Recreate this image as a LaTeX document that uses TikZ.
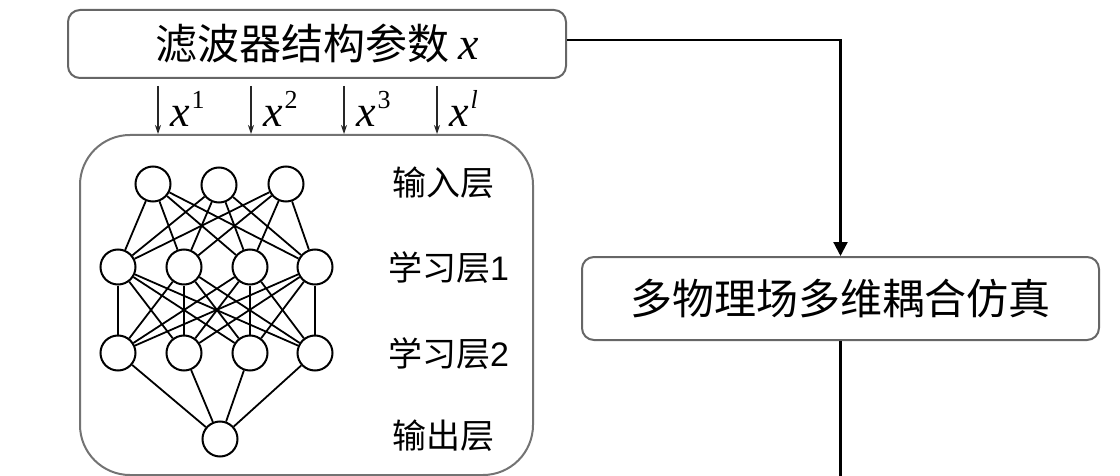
\documentclass[tikz,border=0pt]{standalone}
\usepackage{fontspec}
\setmainfont{Liberation Serif}
\newfontfamily\cjk{Noto Sans CJK SC}
\newfontfamily\arialf{Liberation Sans}
\usetikzlibrary{arrows.meta}
\newcommand\myx{{\rmfamily\itshape x}}
\newcommand\mysup[1]{\hspace{2pt}\raisebox{18pt}{\fontsize{26}{26}\selectfont #1}}
\begin{document}
\begin{tikzpicture}[x=1pt,y=-1pt,
  box/.style={draw=black!60, line width=2pt, rounded corners=12pt, inner sep=0pt},
  neuron/.style={circle, draw=black, line width=2pt, minimum size=35pt, inner sep=0pt},
  conn/.style={line width=2.2pt, black},
  link/.style={line width=1.8pt, black},
  inarrow/.style={line width=1.1pt, black!85, -{Stealth[length=9pt,width=6pt]}},
  layerlbl/.style={anchor=west, inner sep=0pt, font=\cjk\fontsize{34}{34}\selectfont},
  xlbl/.style={anchor=base west, inner sep=0pt, font=\fontsize{44}{44}\selectfont}
]
\useasboundingbox (0,0) rectangle (1120,476);

% top box
\node[box, minimum width=498pt, minimum height=68pt] (top) at (317,44)
  {\cjk\fontsize{42}{42}\selectfont 滤波器结构参数 {\fontsize{46}{46}\selectfont\myx}};

% network frame
\node[draw=black!55, line width=2pt, rounded corners=50pt, minimum width=453pt, minimum height=340pt, inner sep=0pt] (net) at (306.5,305) {};

% input arrows
\coordinate (a1) at (158,86);
\coordinate (a2) at (251,86);
\coordinate (a3) at (344,86);
\coordinate (a4) at (437,86);
\draw[inarrow] (a1) -- (a1 |- net.north);
\draw[inarrow] (a2) -- (a2 |- net.north);
\draw[inarrow] (a3) -- (a3 |- net.north);
\draw[inarrow] (a4) -- (a4 |- net.north);
\node[xlbl] (l1) at (170,127) {\myx\mysup{1}};
\node[xlbl] (l2) at (263,127) {\myx\mysup{2}};
\node[xlbl] (l3) at (356,127) {\myx\mysup{3}};
\node[xlbl] (l4) at (449,127) {\myx\mysup{\itshape l}};

% neurons
\node[neuron] (i1) at (153,184) {};
\node[neuron] (i2) at (219,185) {};
\node[neuron] (i3) at (286,184) {};
\node[neuron] (h1) at (118,267) {};
\node[neuron] (h2) at (184,267) {};
\node[neuron] (h3) at (250,267) {};
\node[neuron] (h4) at (315,267) {};
\node[neuron] (g1) at (118,353) {};
\node[neuron] (g2) at (184,353) {};
\node[neuron] (g3) at (250,353) {};
\node[neuron] (g4) at (315,353) {};
\node[neuron] (o)  at (220,439) {};

\foreach \a in {i1,i2,i3}{\foreach \b in {h1,h2,h3,h4}{\draw[link] (\a) -- (\b);}}
\foreach \a in {h1,h2,h3,h4}{\foreach \b in {g1,g2,g3,g4}{\draw[link] (\a) -- (\b);}}
\foreach \a in {g1,g2,g3,g4}{\draw[link] (\a) -- (o);}

% layer labels
\node[layerlbl] (t1) at (392,183) {输入层};
\node[layerlbl] (t2) at (388,268) {学习层{\arialf 1}};
\node[layerlbl] (t3) at (388,354) {学习层{\arialf 2}};
\node[layerlbl] (t4) at (392,436) {输出层};

% simulation box
\node[box, minimum width=517pt, minimum height=83pt] (sim) at (840.5,298.5)
  {\cjk\fontsize{42}{42}\selectfont 多物理场多维耦合仿真};

\draw[conn, -{Triangle[length=14pt,width=14pt]}] ([yshift=4pt]top.east) -| (sim.north);
\coordinate (bend) at (840.5,476);
\draw[conn] (sim.south) -- (bend);
\end{tikzpicture}
\end{document}
